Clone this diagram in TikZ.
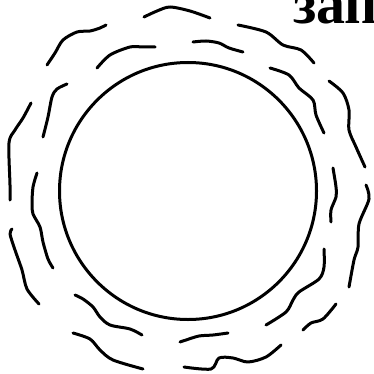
\documentclass[tikz,border=0pt]{standalone}
\usepackage{fontspec}
\usepackage{tikz}
\newfontfamily\titlefont{Liberation Serif}

\tikzset{
  wave/.style={line width=3pt, line cap=round, line join=round, black},
}

\begin{document}
\begin{tikzpicture}[x=1pt, y=-1pt]
        \useasboundingbox (0,0) rectangle (373,374);

        % Heading, cut by the page edge
        \node[anchor=base west, inner sep=0pt, font=\titlefont\bfseries\fontsize{58}{58}\selectfont] (title) at (293,24) {зап};

        % Core circle
        \draw[line width=3pt] (188,191) circle (128.5);

        % Inner ring of wavy dashes
        \draw[wave] plot[smooth] coordinates {(97,68) (110,55) (130,47) (143,47) (155,47)};
        \draw[wave] plot[smooth] coordinates {(193,42) (206,41) (219,43) (229,48) (243,52)};
        \draw[wave] plot[smooth] coordinates {(270,68) (289,75) (299,88) (313,100) (316,115) (324,133)};
        \draw[wave] plot[smooth] coordinates {(333,168) (336,187) (336,197) (331,210) (331,222)};
        \draw[wave] plot[smooth] coordinates {(324,249) (324,267) (319,279) (299,292) (293,300) (286,312) (266,325)};
        \draw[wave] plot[smooth] coordinates {(228,333) (213,335) (199,336) (186,340) (180,342)};
        \draw[wave] plot[smooth] coordinates {(142,335) (130,329) (110,325) (100,317) (93,307) (83,299) (75,295)};
        \draw[wave] plot[smooth] coordinates {(53,268) (48,259) (43,242) (40,227) (33,214) (32,204) (33,187) (37,173)};
        \draw[wave] plot[smooth] coordinates {(43,137) (48,117) (52,97) (57,89) (67,84)};

        % Outer ring of wavy dashes
        \draw[wave] plot[smooth] coordinates {(144,17) (157,11) (170,7) (190,11) (210,18)};
        \draw[wave] plot[smooth] coordinates {(238,25) (266,32) (283,45) (301,50) (314,63)};
        \draw[wave] plot[smooth] coordinates {(329,81) (343,93) (349,110) (349,130) (356,147) (365,167)};
        \draw[wave] plot[smooth] coordinates {(366,185) (369,199) (359,224) (358,247) (354,260) (349,287)};
        \draw[wave] plot[smooth] coordinates {(336,304) (323,319) (311,323) (303,330)};
        \draw[wave] plot[smooth] coordinates {(281,345) (266,357) (248,362) (233,358) (219,358) (211,369) (184,367)};
        \draw[wave] plot[smooth] coordinates {(143,369) (113,360) (100,350) (90,339) (73,333)};
        \draw[wave] plot[smooth] coordinates {(39,304) (27,289) (22,270) (15,250) (10,234) (12,229)};
        \draw[wave] plot[smooth] coordinates {(10,200) (10,185) (9,143) (15,130) (23,118) (31,103)};
        \draw[wave] plot[smooth] coordinates {(47,65) (55,53) (63,40) (77,32) (90,31) (100,28) (106,25)};
    \end{tikzpicture}
\end{document}
